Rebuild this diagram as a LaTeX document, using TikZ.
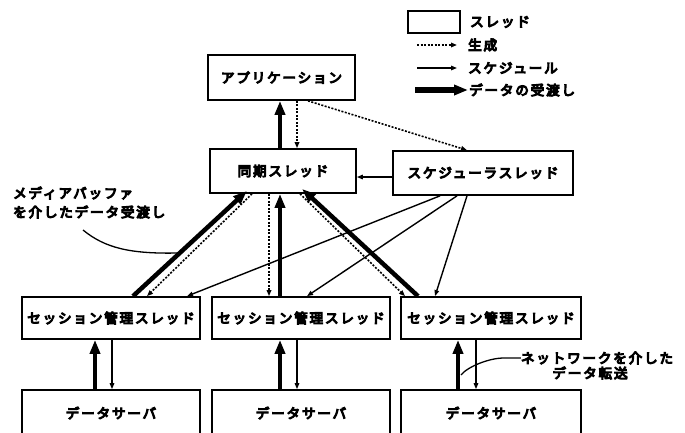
\documentclass[tikz,border=0pt]{standalone}
\usepackage{fontspec}
\newfontfamily\jp{Noto Sans CJK JP}[FakeBold=8,LetterSpace=14]
\usetikzlibrary{arrows.meta,calc}
\begin{document}
\begin{tikzpicture}[x=1pt,y=-1pt,
  box/.style={draw, line width=1.7pt, inner sep=0pt, font=\jp\fontsize{13.5}{15}\selectfont},
  lbl/.style={inner sep=0pt, font=\jp\fontsize{13.5}{15}\selectfont},
  thickarr/.style={line width=4.5pt, -{Triangle[length=14pt,width=10pt]}},
  schedarr/.style={line width=1.4pt, -{Triangle[length=6pt,width=4.5pt]}},
  genarr/.style={line width=1.6pt, dash pattern=on 2pt off 1.5pt, -{Triangle[length=6pt,width=4.5pt]}},
]
\useasboundingbox (0,0) rectangle (685,432);

% legend
\node[box, minimum width=52pt, minimum height=22pt] (lgbox) at (434,22) {};
\node[lbl, anchor=west] (lgt1) at (470,22) {スレッド};
\coordinate (lg2a) at (417,45); \coordinate (lg2b) at (457,45);
\coordinate (lg3a) at (417,68); \coordinate (lg3b) at (457,68);
\coordinate (lg4a) at (415,90); \coordinate (lg4b) at (468,90);
\draw[genarr] (lg2a) -- (lg2b);
\draw[schedarr] (lg3a) -- (lg3b);
\draw[thickarr, line width=6pt] (lg4a) -- (lg4b);
\node[lbl, anchor=west] (lgt2) at (468,45) {生成};
\node[lbl, anchor=west] (lgt3) at (468,68) {スケジュール};
\node[lbl, anchor=west] (lgt4) at (469,90) {データの受渡し};

% thread boxes
\node[box, minimum width=147pt, minimum height=45pt] (app) at (281.5,77.5) {アプリケーション};
\node[box, minimum width=146pt, minimum height=44pt] (sync) at (283,171) {同期スレッド};
\node[box, minimum width=180pt, minimum height=44pt] (sched) at (483,173) {スケジューラスレッド};
\node[box, minimum width=178pt, minimum height=42pt] (sess1) at (111,318) {セッション管理スレッド};
\node[box, minimum width=178pt, minimum height=42pt] (sess2) at (301,318) {セッション管理スレッド};
\node[box, minimum width=180pt, minimum height=42pt] (sess3) at (491,318) {セッション管理スレッド};
\node[box, minimum width=178pt, minimum height=46pt] (ds1) at (111,413) {データサーバ};
\node[box, minimum width=178pt, minimum height=46pt] (ds2) at (301,413) {データサーバ};
\node[box, minimum width=180pt, minimum height=46pt] (ds3) at (491,413) {データサーバ};

% app <-> sync
\draw[thickarr] ([xshift=-3pt]sync.north) -- ([xshift=-3pt]sync.north |- app.south);
\draw[genarr] ([xshift=15.5pt]app.south) -- ([xshift=15.5pt]app.south |- sync.north);
\draw[genarr] ([xshift=26.5pt]app.south) -- ([xshift=-16pt]sched.north);

% sched -> sync
\draw[schedarr] ([yshift=-4pt]sched.west) -- ([yshift=-4pt]sched.west -| sync.east);

% sync <-> sessions
\draw[thickarr] ([xshift=22pt]sess1.north) -- ([xshift=-36pt,yshift=3pt]sync.south);
\draw[genarr] ([xshift=-31pt]sync.south) -- ([xshift=36pt]sess1.north);
\draw[genarr] ([xshift=-14pt]sync.south) -- ([xshift=-32pt]sess2.north);
\draw[thickarr] ([xshift=-21pt]sess2.north) -- ([xshift=-3pt]sync.south);
\draw[thickarr] ([xshift=-73pt]sess3.north) -- ([xshift=19pt,yshift=5pt]sync.south);
\draw[genarr] ([xshift=17pt]sync.south) -- ([xshift=-86pt]sess3.north);

% sched -> sessions
\draw[schedarr] ([xshift=-43pt]sched.south) -- ([xshift=76pt]sess1.north);
\draw[schedarr] ([xshift=-26pt]sched.south) -- ([xshift=6pt]sess2.north);
\draw[schedarr] ([xshift=-16pt]sched.south) -- ([xshift=-56pt]sess3.north);

% sessions <-> data servers
\draw[thickarr] ([xshift=-16pt]ds1.north) -- ([xshift=-16pt]ds1.north |- sess1.south);
\draw[schedarr] ([xshift=1pt]sess1.south) -- ([xshift=1pt]sess1.south |- ds1.north);
\draw[thickarr] ([xshift=-21pt]ds2.north) -- ([xshift=-21pt]ds2.north |- sess2.south);
\draw[schedarr] ([xshift=-4pt]sess2.south) -- ([xshift=-4pt]sess2.south |- ds2.north);
\draw[thickarr] ([xshift=-33pt]ds3.north) -- ([xshift=-33pt]ds3.north |- sess3.south);
\draw[schedarr] ([xshift=-15pt]sess3.south) -- ([xshift=-15pt]sess3.south |- ds3.north);

% annotation: media buffer
\node[lbl, anchor=west] (mb1) at (13,193) {メディアバッファ};
\node[lbl, anchor=west] (mb2) at (13,212) {を介したデータ受渡し};
\coordinate (m1) at (83,230);
\coordinate (m2) at (178,253);
\draw[line width=1.3pt] (m1) .. controls (105,248) and (130,254) .. (m2);

% annotation: network
\node[lbl] (nw1) at (597,358) {ネットワークを介した};
\node[lbl] (nw2) at (590,373) {データ転送};
\coordinate (n2) at (461,375);
\draw[line width=1.3pt] (nw1.west) -- ++(-17,0) .. controls +(-15,0) and +(6,-8) .. (n2);
\end{tikzpicture}
\end{document}
